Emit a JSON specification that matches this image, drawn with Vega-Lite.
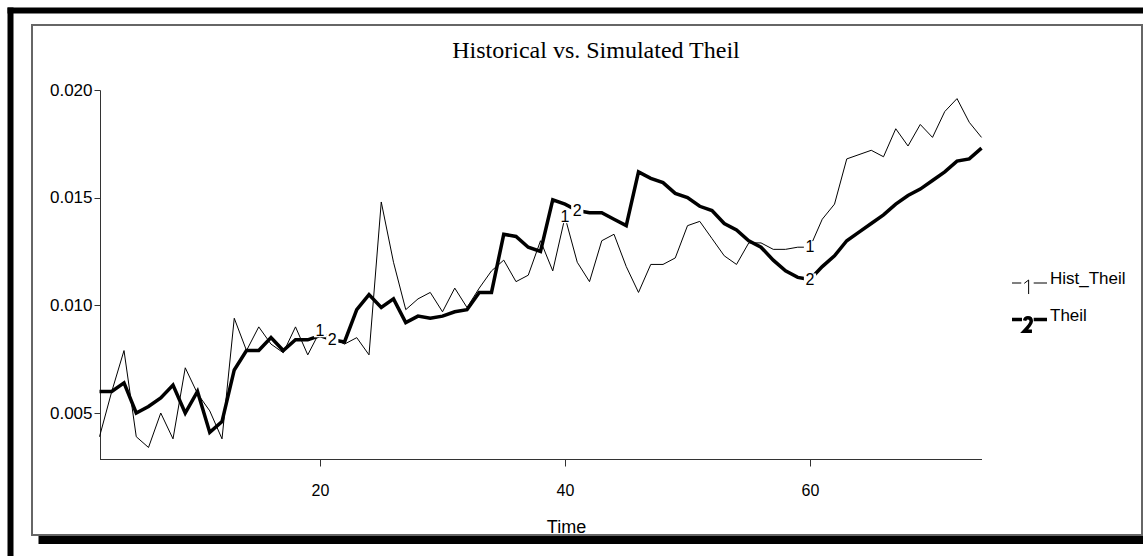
{
  "$schema": "https://vega.github.io/schema/vega-lite/v6.json",
  "width": 1110,
  "height": 510,
  "autosize": {"type": "none"},
  "padding": {"left": 32, "top": 25, "right": 1, "bottom": 21},
  "background": "white",
  "config": {"view": {"stroke": "#666", "strokeWidth": 2}, "font": "Liberation Sans"},
  "title": {"text": "Historical vs. Simulated Theil", "font": "Liberation Serif", "fontSize": 24, "fontWeight": "normal", "anchor": "middle", "frame": "group", "offset": -72, "baseline": "alphabetic", "dx": 9, "color": "black"},
  "datasets": {
    "theil": [
      {"Time":2,"series":"Hist_Theil","value":0.0039},{"Time":3,"series":"Hist_Theil","value":0.0060},{"Time":4,"series":"Hist_Theil","value":0.0079},{"Time":5,"series":"Hist_Theil","value":0.0039},{"Time":6,"series":"Hist_Theil","value":0.0034},{"Time":7,"series":"Hist_Theil","value":0.0050},{"Time":8,"series":"Hist_Theil","value":0.0038},{"Time":9,"series":"Hist_Theil","value":0.0071},{"Time":10,"series":"Hist_Theil","value":0.0059},{"Time":11,"series":"Hist_Theil","value":0.0051},
      {"Time":12,"series":"Hist_Theil","value":0.0038},{"Time":13,"series":"Hist_Theil","value":0.0094},{"Time":14,"series":"Hist_Theil","value":0.0079},{"Time":15,"series":"Hist_Theil","value":0.0090},{"Time":16,"series":"Hist_Theil","value":0.0082},{"Time":17,"series":"Hist_Theil","value":0.0078},{"Time":18,"series":"Hist_Theil","value":0.0090},{"Time":19,"series":"Hist_Theil","value":0.0077},{"Time":20,"series":"Hist_Theil","value":0.0088},{"Time":21,"series":"Hist_Theil","value":0.0085},
      {"Time":22,"series":"Hist_Theil","value":0.0082},{"Time":23,"series":"Hist_Theil","value":0.0085},{"Time":24,"series":"Hist_Theil","value":0.0077},{"Time":25,"series":"Hist_Theil","value":0.0148},{"Time":26,"series":"Hist_Theil","value":0.0120},{"Time":27,"series":"Hist_Theil","value":0.0098},{"Time":28,"series":"Hist_Theil","value":0.0103},{"Time":29,"series":"Hist_Theil","value":0.0106},{"Time":30,"series":"Hist_Theil","value":0.0097},{"Time":31,"series":"Hist_Theil","value":0.0108},
      {"Time":32,"series":"Hist_Theil","value":0.0099},{"Time":33,"series":"Hist_Theil","value":0.0108},{"Time":34,"series":"Hist_Theil","value":0.0116},{"Time":35,"series":"Hist_Theil","value":0.0121},{"Time":36,"series":"Hist_Theil","value":0.0111},{"Time":37,"series":"Hist_Theil","value":0.0114},{"Time":38,"series":"Hist_Theil","value":0.0130},{"Time":39,"series":"Hist_Theil","value":0.0116},{"Time":40,"series":"Hist_Theil","value":0.0141},{"Time":41,"series":"Hist_Theil","value":0.0120},
      {"Time":42,"series":"Hist_Theil","value":0.0111},{"Time":43,"series":"Hist_Theil","value":0.0130},{"Time":44,"series":"Hist_Theil","value":0.0133},{"Time":45,"series":"Hist_Theil","value":0.0118},{"Time":46,"series":"Hist_Theil","value":0.0106},{"Time":47,"series":"Hist_Theil","value":0.0119},{"Time":48,"series":"Hist_Theil","value":0.0119},{"Time":49,"series":"Hist_Theil","value":0.0122},{"Time":50,"series":"Hist_Theil","value":0.0137},{"Time":51,"series":"Hist_Theil","value":0.0139},
      {"Time":52,"series":"Hist_Theil","value":0.0131},{"Time":53,"series":"Hist_Theil","value":0.0123},{"Time":54,"series":"Hist_Theil","value":0.0119},{"Time":55,"series":"Hist_Theil","value":0.0129},{"Time":56,"series":"Hist_Theil","value":0.0129},{"Time":57,"series":"Hist_Theil","value":0.0126},{"Time":58,"series":"Hist_Theil","value":0.0126},{"Time":59,"series":"Hist_Theil","value":0.0127},{"Time":60,"series":"Hist_Theil","value":0.0127},{"Time":61,"series":"Hist_Theil","value":0.0140},
      {"Time":62,"series":"Hist_Theil","value":0.0147},{"Time":63,"series":"Hist_Theil","value":0.0168},{"Time":64,"series":"Hist_Theil","value":0.0170},{"Time":65,"series":"Hist_Theil","value":0.0172},{"Time":66,"series":"Hist_Theil","value":0.0169},{"Time":67,"series":"Hist_Theil","value":0.0182},{"Time":68,"series":"Hist_Theil","value":0.0174},{"Time":69,"series":"Hist_Theil","value":0.0184},{"Time":70,"series":"Hist_Theil","value":0.0178},{"Time":71,"series":"Hist_Theil","value":0.0190},
      {"Time":72,"series":"Hist_Theil","value":0.0196},{"Time":73,"series":"Hist_Theil","value":0.0185},{"Time":74,"series":"Hist_Theil","value":0.0178},
      {"Time":2,"series":"Theil","value":0.0060},{"Time":3,"series":"Theil","value":0.0060},{"Time":4,"series":"Theil","value":0.0064},{"Time":5,"series":"Theil","value":0.0050},{"Time":6,"series":"Theil","value":0.0053},{"Time":7,"series":"Theil","value":0.0057},{"Time":8,"series":"Theil","value":0.0063},{"Time":9,"series":"Theil","value":0.0050},{"Time":10,"series":"Theil","value":0.0060},{"Time":11,"series":"Theil","value":0.0041},
      {"Time":12,"series":"Theil","value":0.0046},{"Time":13,"series":"Theil","value":0.0070},{"Time":14,"series":"Theil","value":0.0079},{"Time":15,"series":"Theil","value":0.0079},{"Time":16,"series":"Theil","value":0.0085},{"Time":17,"series":"Theil","value":0.0079},{"Time":18,"series":"Theil","value":0.0084},{"Time":19,"series":"Theil","value":0.0084},{"Time":20,"series":"Theil","value":0.0086},{"Time":21,"series":"Theil","value":0.0084},
      {"Time":22,"series":"Theil","value":0.0083},{"Time":23,"series":"Theil","value":0.0098},{"Time":24,"series":"Theil","value":0.0105},{"Time":25,"series":"Theil","value":0.0099},{"Time":26,"series":"Theil","value":0.0103},{"Time":27,"series":"Theil","value":0.0092},{"Time":28,"series":"Theil","value":0.0095},{"Time":29,"series":"Theil","value":0.0094},{"Time":30,"series":"Theil","value":0.0095},{"Time":31,"series":"Theil","value":0.0097},
      {"Time":32,"series":"Theil","value":0.0098},{"Time":33,"series":"Theil","value":0.0106},{"Time":34,"series":"Theil","value":0.0106},{"Time":35,"series":"Theil","value":0.0133},{"Time":36,"series":"Theil","value":0.0132},{"Time":37,"series":"Theil","value":0.0127},{"Time":38,"series":"Theil","value":0.0125},{"Time":39,"series":"Theil","value":0.0149},{"Time":40,"series":"Theil","value":0.0147},{"Time":41,"series":"Theil","value":0.0144},
      {"Time":42,"series":"Theil","value":0.0143},{"Time":43,"series":"Theil","value":0.0143},{"Time":44,"series":"Theil","value":0.0140},{"Time":45,"series":"Theil","value":0.0137},{"Time":46,"series":"Theil","value":0.0162},{"Time":47,"series":"Theil","value":0.0159},{"Time":48,"series":"Theil","value":0.0157},{"Time":49,"series":"Theil","value":0.0152},{"Time":50,"series":"Theil","value":0.0150},{"Time":51,"series":"Theil","value":0.0146},
      {"Time":52,"series":"Theil","value":0.0144},{"Time":53,"series":"Theil","value":0.0138},{"Time":54,"series":"Theil","value":0.0135},{"Time":55,"series":"Theil","value":0.0130},{"Time":56,"series":"Theil","value":0.0127},{"Time":57,"series":"Theil","value":0.0121},{"Time":58,"series":"Theil","value":0.0116},{"Time":59,"series":"Theil","value":0.0113},{"Time":60,"series":"Theil","value":0.0112},{"Time":61,"series":"Theil","value":0.0118},
      {"Time":62,"series":"Theil","value":0.0123},{"Time":63,"series":"Theil","value":0.0130},{"Time":64,"series":"Theil","value":0.0134},{"Time":65,"series":"Theil","value":0.0138},{"Time":66,"series":"Theil","value":0.0142},{"Time":67,"series":"Theil","value":0.0147},{"Time":68,"series":"Theil","value":0.0151},{"Time":69,"series":"Theil","value":0.0154},{"Time":70,"series":"Theil","value":0.0158},{"Time":71,"series":"Theil","value":0.0162},
      {"Time":72,"series":"Theil","value":0.0167},{"Time":73,"series":"Theil","value":0.0168},{"Time":74,"series":"Theil","value":0.0173}
    ]
  },
  "data": {"name": "theil"},
  "layer": [
    {
      "layer": [
        {
          "mark": {"type": "line", "color": "black", "strokeJoin": "miter"},
          "encoding": {
            "x": {"field": "Time", "type": "quantitative",
                  "scale": {"domain": [2, 74], "range": [67.5, 949.5], "nice": false, "zero": false},
                  "axis": {"orient": "bottom", "offset": -76, "values": [20, 40, 60], "grid": false, "domainColor": "#333", "tickColor": "#333", "tickSize": 7, "labelPadding": 16, "labelFontSize": 16, "labelColor": "black", "labelFont": "Liberation Sans",
                           "title": "Time", "titleFont": "Liberation Sans", "titleFontSize": 18, "titleFontWeight": "normal", "titleColor": "black", "titleX": 534, "titleY": 59, "titleBaseline": "top", "titleAlign": "center"}},
            "y": {"field": "value", "type": "quantitative",
                  "scale": {"domain": [0.00286, 0.020], "range": [434.1, 65], "nice": false, "zero": false},
                  "axis": {"orient": "left", "offset": -68, "values": [0.005, 0.01, 0.015, 0.02], "format": ".3f", "grid": false, "domainColor": "#333", "tickColor": "#333", "tickSize": 6, "labelPadding": 2, "labelFontSize": 17, "labelColor": "black", "labelFont": "Liberation Sans", "title": null}},
            "detail": {"field": "series"},
            "strokeWidth": {"field": "series", "type": "nominal",
                            "scale": {"domain": ["Hist_Theil", "Theil"], "range": [1, 3.5]},
                            "legend": {"orient": "none", "legendX": 978, "legendY": 240, "title": null, "padding": 0,
                                       "symbolSize": 1225, "symbolStrokeColor": "black", "symbolFillColor": "transparent",
                                       "labelFontSize": 17, "labelFont": "Liberation Sans", "labelColor": "black", "labelOffset": 1, "rowPadding": 3,
                                       "encode": {
                                         "symbols": {"update": {
                                           "shape": {"signal": "datum.value === 'Hist_Theil' ? 'M-1,0H-0.47M-0.3,0.02L-0.05,-0.17V0.63M0.24,0H1' : 'M-1,0H-0.43M0.24,0H1M-0.28,0.06Q-0.24,-0.1 -0.09,-0.1Q0.1,-0.1 0.1,0.1Q0.1,0.25 -0.3,0.67H0.14'"},
                                           "stroke": {"value": "black"},
                                           "fill": {"value": "transparent"}
                                         }},
                                         "labels": {"update": {"dy": {"value": -4}}}
                                       }}}
          }
        },
        {
          "transform": [
            {"filter": "(datum.series === 'Hist_Theil' && indexof([20, 40, 60], datum.Time) >= 0) || (datum.series === 'Theil' && indexof([21, 41, 60], datum.Time) >= 0)"}
          ],
          "mark": {"type": "square", "color": "white", "opacity": 1, "size": 150},
          "encoding": {
            "x": {"field": "Time", "type": "quantitative"},
            "y": {"field": "value", "type": "quantitative"}
          }
        },
        {
          "transform": [
            {"filter": "(datum.series === 'Hist_Theil' && indexof([20, 40, 60], datum.Time) >= 0) || (datum.series === 'Theil' && indexof([21, 41, 60], datum.Time) >= 0)"},
            {"calculate": "datum.series === 'Hist_Theil' ? '1' : '2'", "as": "label"}
          ],
          "mark": {"type": "text", "font": "Liberation Sans", "fontSize": 16, "fill": "black", "align": "center", "baseline": "middle"},
          "encoding": {
            "x": {"field": "Time", "type": "quantitative"},
            "y": {"field": "value", "type": "quantitative"},
            "text": {"field": "label"}
          }
        }
      ]
    },
    {
      "mark": {"type": "point", "opacity": 0},
      "encoding": {
        "y": {"field": "value", "type": "quantitative", "scale": {"domain": [0, 1], "range": [531, -18], "nice": false, "zero": false},
              "axis": {"orient": "left", "offset": 22, "domainColor": "black", "domainWidth": 6, "ticks": false, "labels": false, "title": null, "grid": false}}
      }
    },
    {
      "mark": {"type": "point", "opacity": 0},
      "encoding": {
        "x": {"field": "Time", "type": "quantitative", "scale": {"domain": [0, 100], "range": [-25, 1111], "nice": false, "zero": false},
              "axis": {"orient": "top", "offset": 15, "domainColor": "black", "domainWidth": 6, "ticks": false, "labels": false, "title": null, "grid": false}}
      }
    },
    {
      "mark": {"type": "point", "opacity": 0},
      "encoding": {
        "x": {"field": "Time", "type": "quantitative", "scale": {"domain": [0, 100], "range": [6, 1111], "nice": false, "zero": false},
              "axis": {"orient": "bottom", "offset": 4.5, "domainColor": "black", "domainWidth": 8, "ticks": false, "labels": false, "title": null, "grid": false}}
      }
    }
  ],
  "resolve": {"scale": {"x": "independent", "y": "independent"}, "axis": {"x": "independent", "y": "independent"}}
}
